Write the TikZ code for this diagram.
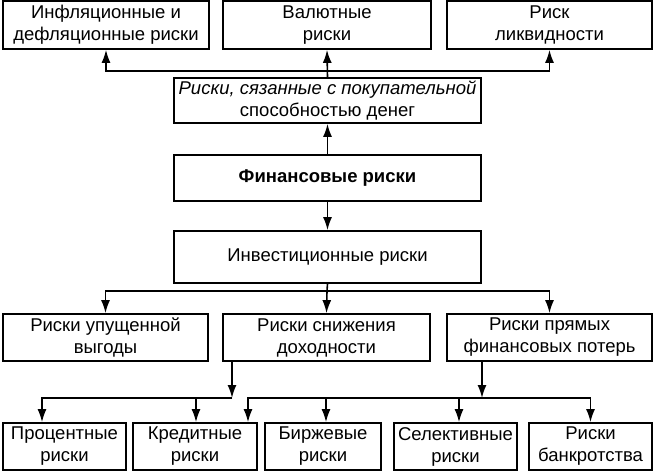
\documentclass[tikz,border=0pt]{standalone}
\usepackage{fontspec}
\setmainfont{Liberation Sans}
\usetikzlibrary{arrows.meta}
\tikzset{
	box/.style={draw, line width=1.7pt, inner sep=1pt, align=center, font=\fontsize{18.5}{22}\selectfont},
	arr/.style={line width=1.6pt, -{Latex[length=13pt,width=9pt]}},
	ln/.style={line width=1.6pt}
}

\begin{document}
\begin{tikzpicture}[x=1pt,y=-1pt]
		%%%%% START %%%%%
		\useasboundingbox (0,0) rectangle (654,471);
		
		\node[box, minimum width=206pt, minimum height=48pt] (infl) at (106,25) {Инфляционные и\\дефляционные риски};
		\node[box, minimum width=208pt, minimum height=48pt] (val) at (327,25) {Валютные\\риски};
		\node[box, minimum width=205pt, minimum height=48pt] (liq) at (549.5,25) {Риск\\ликвидности};
		
		\node[box, minimum width=307pt, minimum height=45pt] (purch) at (327.5,100.5) {\itshape Риски, сязанные с покупательной\\способностью денег};
		\node[box, minimum width=307pt, minimum height=46pt, font=\fontsize{18.5}{22}\selectfont\bfseries] (fin) at (327.5,178) {Финансовые риски};
		\node[box, minimum width=307pt, minimum height=52pt] (inv) at (327.5,257) {Инвестиционные риски};
		
		\node[box, minimum width=205pt, minimum height=47pt] (lost) at (105.5,337.5) {Риски упущенной\\выгоды};
		\node[box, minimum width=207pt, minimum height=47pt] (fall) at (326.5,337.5) {Риски снижения\\доходности};
		\node[box, minimum width=205pt, minimum height=47pt] (loss) at (549.5,337.5) {Риски прямых\\финансовых потерь};
		
		\node[box, minimum width=123pt, minimum height=47pt] (perc) at (64.5,446.5) {Процентные\\риски};
		\node[box, minimum width=124pt, minimum height=47pt] (cred) at (195,446.5) {Кредитные\\риски};
		\node[box, minimum width=116pt, minimum height=47pt] (exch) at (323,446.5) {Биржевые\\риски};
		\node[box, minimum width=123pt, minimum height=47pt] (sel) at (455.5,446.5) {Селективные\\риски};
		\node[box, minimum width=123pt, minimum height=47pt] (bank) at (590.5,446.5) {Риски\\банкротства};
		
		\coordinate (jtop) at (327,71);
		\coordinate (jmid) at (327,291);
		\coordinate (jl) at (232,398);
		\coordinate (jr) at (482,398);
		
		\draw[arr] (purch.north) -- (val.south);
		\draw[arr] (jtop) -| (infl.south);
		\draw[arr] (jtop) -| (liq.south);
		
		\draw[arr] (fin.north) -- (purch.south);
		\draw[arr] (fin.south) -- (inv.north);
		
		\draw[ln] (inv.south) -- (jmid);
		\draw[arr] (jmid) -| (lost.north);
		\draw[arr] (jmid) -- (fall.north);
		\draw[arr] (jmid) -| (loss.north);
		
		\draw[arr] (232,0 |- fall.south) -- (jl);
		\draw[arr] (jl) -| (42,0 |- perc.north);
		\draw[arr] (jl) -| (196,0 |- cred.north);
		
		\draw[arr] (482,0 |- loss.south) -- (jr);
		\draw[arr] (jr) -| (248,0 |- cred.north);
		\draw[arr] (jr) -| (326,0 |- exch.north);
		\draw[arr] (jr) -| (459,0 |- sel.north);
		\draw[arr] (jr) -| (bank.north);
		
		%%%%% END %%%%%
	\end{tikzpicture}
\end{document}
